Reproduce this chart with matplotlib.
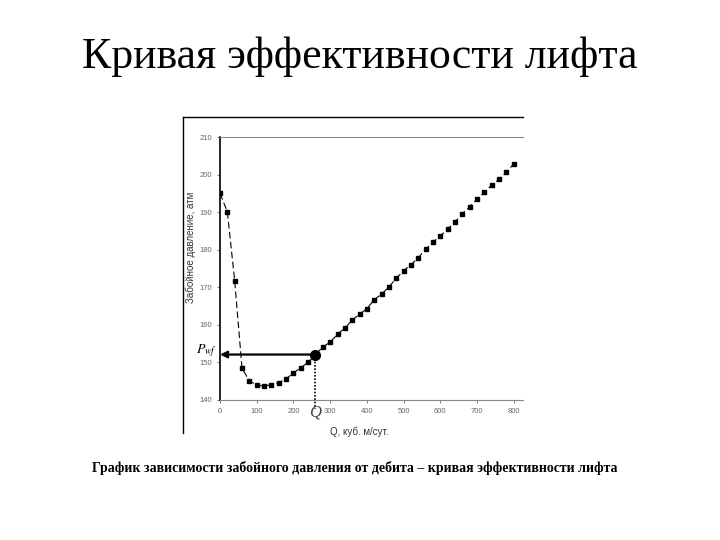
import matplotlib
matplotlib.use('Agg')
import matplotlib.pyplot as plt
from matplotlib.lines import Line2D

# дебит, куб. м/сут
q = [0, 20, 40, 60, 80, 100, 120, 140, 160, 180, 200, 220, 240, 260, 280, 300,
     320, 340, 360, 380, 400, 420, 440, 460, 480, 500, 520, 540, 560, 580, 600,
     620, 640, 660, 680, 700, 720, 740, 760, 780, 800]
# забойное давление, атм
p = [195.0, 190.1, 171.7, 148.4, 145.1, 144.0, 143.7, 144.1, 144.6, 145.6, 147.2,
     148.6, 150.0, 152.1, 154.1, 155.4, 157.5, 159.1, 161.3, 162.8, 164.3, 166.7,
     168.2, 170.1, 172.4, 174.4, 176.0, 177.9, 180.1, 182.0, 183.7, 185.5, 187.4,
     189.6, 191.5, 193.4, 195.3, 197.2, 198.7, 200.6, 202.9]
q_work = 260
p_work = 152.1
xticks = [0, 100, 200, 300, 400, 500, 600, 700, 800]
yticks = [140, 150, 160, 170, 180, 190, 200, 210]

fig = plt.figure(figsize=(7.2, 5.4), dpi=100)

fig.text(0.5, 0.895, 'Кривая эффективности лифта', ha='center', va='center',
         family='Liberation Serif', fontsize=31.5)
fig.text(0.493, 0.133, 'График зависимости забойного давления от дебита – кривая эффективности лифта',
         ha='center', va='center', family='Liberation Serif', fontsize=10, fontweight='bold')

# рамка рисунка (слева и сверху)
fig.add_artist(Line2D([183/720, 183/720], [1-433/540, 1-117/540], color='black', lw=1.0))
fig.add_artist(Line2D([183/720, 523/720], [1-117/540, 1-117/540], color='black', lw=1.0))

ax = fig.add_axes([220/720, 1-400/540, 303/720, 263/540])
ax.plot(q, p, color='black', lw=0.8, ls=(0, (6, 3)), marker='s', markersize=2.5)
ax.plot([q_work], [p_work], 'o', color='black', markersize=7)

ax.annotate('', xy=(0, p_work), xytext=(q_work, p_work),
            arrowprops=dict(arrowstyle='-|>', color='black', lw=1.6,
                            mutation_scale=10, shrinkA=0, shrinkB=0))
ax.plot([q_work, q_work], [p_work, 137.5], color='black', lw=1.2, ls=(0, (1, 1)),
        clip_on=False)

ax.text(-8, 153.2, '$P_{wf}$', ha='right', va='center', fontsize=10,
        family='Liberation Serif', math_fontfamily='stix', style='italic')
ax.text(q_work, 136.8, 'Q', ha='center', va='center', fontsize=12,
        family='Liberation Serif', style='italic', color='#444444')

ax.set_xlim(0, 825)
ax.set_ylim(140, 210)
ax.set_xticks(xticks)
ax.set_yticks(yticks)
ax.tick_params(labelsize=5.5, labelcolor='#666666', length=2, width=0.6,
               colors='#666666')
for lab in ax.get_xticklabels() + ax.get_yticklabels():
    lab.set_family('Liberation Sans')

ax.spines['right'].set_visible(False)
ax.spines['top'].set_color('#888888')
ax.spines['bottom'].set_color('#888888')
ax.spines['left'].set_color('black')
ax.spines['left'].set_linewidth(1.2)

ax.set_xlabel('Q, куб. м/сут.', family='Liberation Sans', fontsize=7, color='#333333')
ax.xaxis.set_label_coords(0.46, -0.1)
ax.set_ylabel('Забойное давление, атм', family='Liberation Sans', fontsize=7, color='#333333')
ax.yaxis.set_label_coords(-0.078, 0.58)

fig.savefig('out.png', dpi=100)
